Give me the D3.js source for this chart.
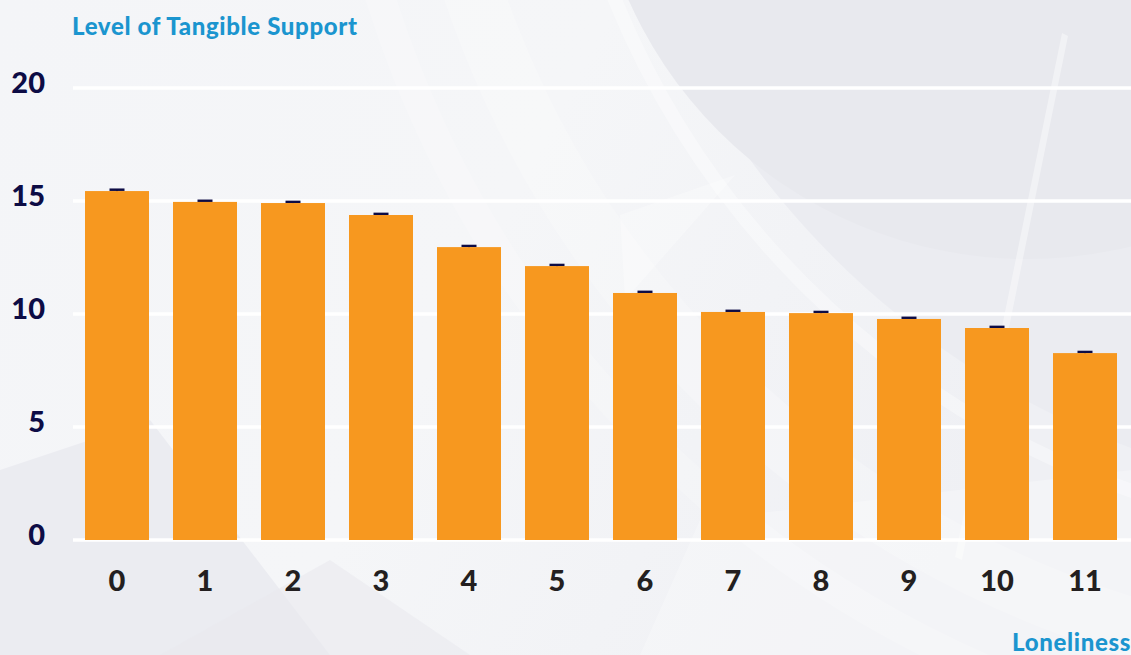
<!DOCTYPE html>
<html>
<head>
<meta charset="utf-8">
<script src="https://cdn.jsdelivr.net/npm/d3@7"></script>
<style>
  html, body { margin: 0; padding: 0; background: #f3f4f7; }
  svg { display: block; }
</style>
</head>
<body>
<svg id="chart" width="1131" height="655"></svg>
<script>
// ---- data ----
const categories = ["0","1","2","3","4","5","6","7","8","9","10","11"];
const values = [15.44, 14.96, 14.91, 14.38, 12.96, 12.12, 10.93, 10.09, 10.04, 9.78, 9.38, 8.27];
const errors = [0.06, 0.05, 0.05, 0.05, 0.05, 0.05, 0.05, 0.05, 0.05, 0.05, 0.05, 0.05];
const yTicks = [0, 5, 10, 15, 20];
const yTitle = "Level of Tangible Support";
const xTitle = "Loneliness";

const W = 1131, H = 655;
const svg = d3.select("#chart");

// ---- decorative background ----
const bg = svg.append("g");
const defs = svg.append("defs");
const lg = defs.append("linearGradient").attr("id", "bgGrad")
  .attr("x1", "0").attr("y1", "0").attr("x2", "1").attr("y2", "0.3");
lg.append("stop").attr("offset", "0").attr("stop-color", "#f4f5f8");
lg.append("stop").attr("offset", "0.5").attr("stop-color", "#f5f6f8");
lg.append("stop").attr("offset", "1").attr("stop-color", "#eff0f4");
bg.append("rect").attr("width", W).attr("height", H).attr("fill", "url(#bgGrad)");
// bottom-left darker wedge
bg.append("path").attr("d", "M0,470 L150,420 L330,655 L0,655 Z").attr("fill", "#ebecf1");
bg.append("path").attr("d", "M160,655 L330,560 L470,655 Z").attr("fill", "#e9eaef").attr("opacity", 0.6);
// big arcs
bg.append("circle").attr("cx", 1420).attr("cy", -330).attr("r", 830).attr("fill", "#ebecf1");
bg.append("circle").attr("cx", 1027).attr("cy", -177).attr("r", 436).attr("fill", "#e8e9ee");
bg.append("circle").attr("cx", 1420).attr("cy", -330).attr("r", 870)
  .attr("fill", "none").attr("stroke", "#ffffff").attr("stroke-opacity", 0.35).attr("stroke-width", 14);
bg.append("circle").attr("cx", 1420).attr("cy", -330).attr("r", 1000)
  .attr("fill", "none").attr("stroke", "#ffffff").attr("stroke-opacity", 0.22).attr("stroke-width", 60);
bg.append("circle").attr("cx", 1420).attr("cy", -330).attr("r", 1090)
  .attr("fill", "none").attr("stroke", "#ffffff").attr("stroke-opacity", 0.2).attr("stroke-width", 30);
// light diagonal stripe near right
bg.append("path").attr("d", "M1062,33 L1068,36 L962,560 L955,557 Z").attr("fill", "#ffffff").attr("opacity", 0.4);
bg.append("path").attr("d", "M700,520 L1131,470 L1131,655 L640,655 Z").attr("fill", "#ffffff").attr("opacity", 0.25);
bg.append("path").attr("d", "M620,215 L735,175 L625,300 Z").attr("fill", "#ffffff").attr("opacity", 0.3);

// ---- scales ----
const x = d3.scaleBand().domain(categories).range([73, 1129])
  .paddingInner(0.2727).paddingOuter(0.1364);
const y = d3.scaleLinear().domain([0, 20]).range([540, 88]);

// ---- gridlines ----
const grid = svg.append("g");
grid.selectAll("line").data(yTicks).join("line")
  .attr("x1", 73).attr("x2", W)
  .attr("y1", d => y(d)).attr("y2", d => y(d))
  .attr("stroke", "#ffffff").attr("stroke-width", 3.5);

// ---- y tick labels ----
svg.append("g").selectAll("text").data(yTicks).join("text")
  .attr("x", 45).attr("y", d => y(d) - 7)
  .attr("text-anchor", "end").attr("dominant-baseline", "central")
  .attr("font-family", "Lato, sans-serif").attr("font-weight", 900)
  .attr("font-size", 29).attr("fill", "#0d0c45")
  .text(d => d);

// ---- error bars (behind bars) ----
const eb = svg.append("g");
categories.forEach((c, i) => {
  const cx = x(c) + x.bandwidth() / 2;
  eb.append("line")
    .attr("x1", cx).attr("x2", cx)
    .attr("y1", y(values[i] + errors[i])).attr("y2", y(values[i] - errors[i]))
    .attr("stroke", "#0d0c45").attr("stroke-width", 1.5);
  eb.append("line")
    .attr("x1", cx - 7.5).attr("x2", cx + 7.5)
    .attr("y1", y(values[i] + errors[i])).attr("y2", y(values[i] + errors[i]))
    .attr("stroke", "#0d0c45").attr("stroke-width", 2.5);
});

// ---- bars ----
svg.append("g").selectAll("rect").data(values).join("rect")
  .attr("x", (d, i) => x(categories[i]))
  .attr("width", x.bandwidth())
  .attr("y", d => y(d))
  .attr("height", d => y(0) - y(d))
  .attr("fill", "#f7981f");

// ---- x tick labels ----
svg.append("g").selectAll("text").data(categories).join("text")
  .attr("x", d => x(d) + x.bandwidth() / 2).attr("y", 579)
  .attr("text-anchor", "middle").attr("dominant-baseline", "central")
  .attr("font-family", "Lato, sans-serif").attr("font-weight", 900)
  .attr("font-size", 29).attr("fill", "#231f20")
  .text(d => d);

// ---- axis titles ----
svg.append("text").attr("x", 72).attr("y", 35)
  .attr("font-family", "Lato, sans-serif").attr("font-weight", 900)
  .attr("font-size", 24).attr("letter-spacing", 0.65).attr("fill", "#1b95cf")
  .text(yTitle);
svg.append("text").attr("x", 1131).attr("y", 651)
  .attr("text-anchor", "end")
  .attr("font-family", "Lato, sans-serif").attr("font-weight", 900)
  .attr("font-size", 24).attr("letter-spacing", 0.65).attr("fill", "#1b95cf")
  .text(xTitle);
</script>
</body>
</html>
